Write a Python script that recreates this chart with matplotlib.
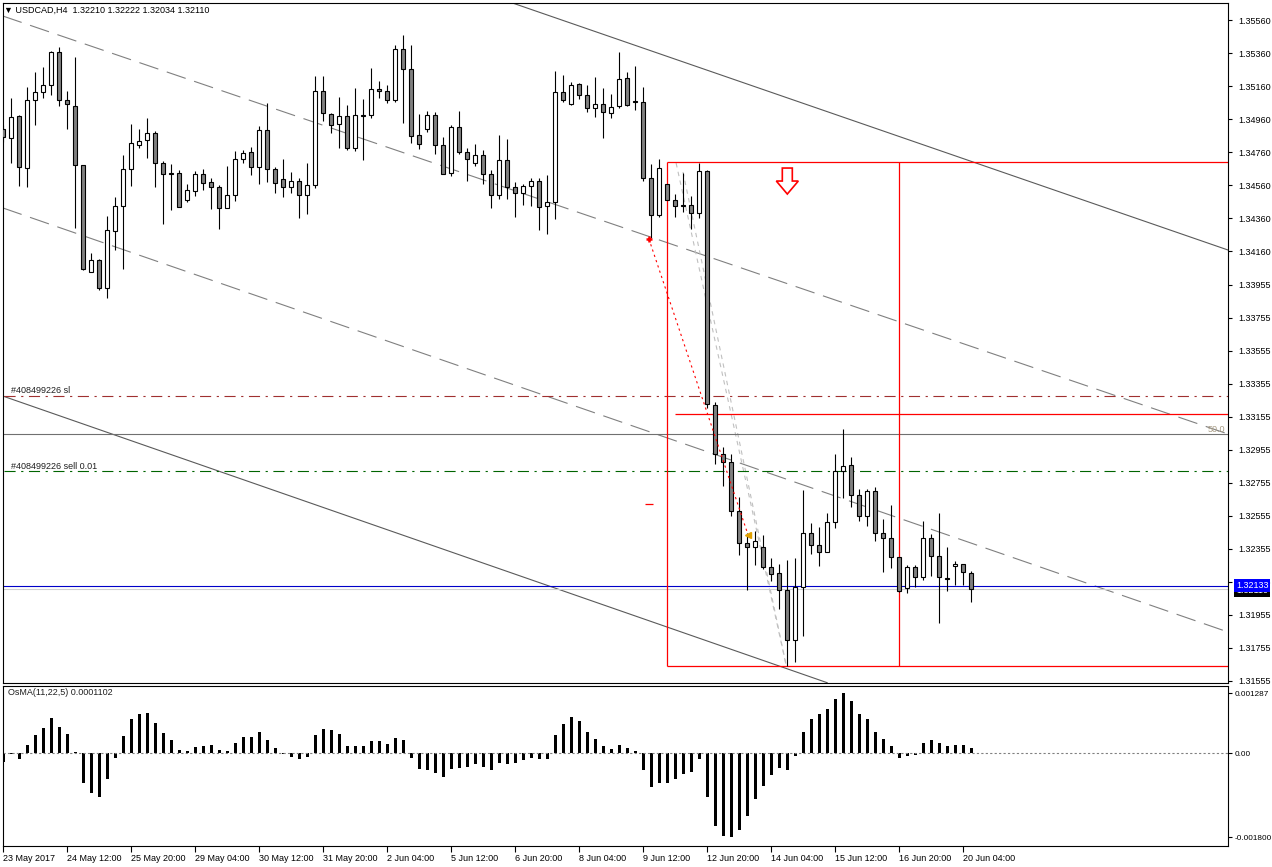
import matplotlib
matplotlib.use("Agg")
import matplotlib.pyplot as plt
import matplotlib.transforms as mtransforms
import numpy as np

plt.rcParams['font.family'] = ['Liberation Sans', 'DejaVu Sans']
plt.rcParams['font.size'] = 6.5

############# USDCAD H4 candles #############
opens = [1.34899, 1.34845, 1.34978, 1.34663, 1.35075, 1.35124, 1.35166, 1.35366, 1.35075, 1.35039,
         1.34681, 1.34033, 1.34105, 1.33936, 1.34281, 1.34433, 1.34657, 1.34802, 1.34833, 1.34875,
         1.34693, 1.34633, 1.34633, 1.34469, 1.34524, 1.34627, 1.34578, 1.34548, 1.34420, 1.34499,
         1.34717, 1.34760, 1.34669, 1.34893, 1.34657, 1.34596, 1.34548, 1.34584, 1.34499, 1.34560,
         1.35130, 1.34990, 1.34930, 1.34978, 1.34784, 1.34978, 1.34984, 1.35142, 1.35130, 1.35075,
         1.35384, 1.35263, 1.34863, 1.34899, 1.34984, 1.34802, 1.34633, 1.34911, 1.34760, 1.34693,
         1.34742, 1.34627, 1.34499, 1.34711, 1.34548, 1.34512, 1.34554, 1.34584, 1.34433, 1.34457,
         1.35124, 1.35051, 1.35172, 1.35106, 1.35027, 1.35051, 1.34996, 1.35039, 1.35208, 1.35069,
         1.35063, 1.34602, 1.34378, 1.34566, 1.34469, 1.34439, 1.34439, 1.34390, 1.34645, 1.33227,
         1.32930, 1.32881, 1.32584, 1.32390, 1.32366, 1.32366, 1.32245, 1.32208, 1.32105, 1.31802,
         1.32124, 1.32451, 1.32378, 1.32336, 1.32518, 1.32827, 1.32863, 1.32681, 1.32554, 1.32705,
         1.32451, 1.32420, 1.32305, 1.32118, 1.32245, 1.32184, 1.32420, 1.32312, 1.32178, 1.32251,
         1.32263, 1.32210]
highs = [1.34924, 1.35088, 1.34984, 1.35154, 1.35245, 1.35275, 1.35372, 1.35396, 1.35130, 1.35336,
         1.34681, 1.34148, 1.34111, 1.34372, 1.34487, 1.34742, 1.34930, 1.34899, 1.34966, 1.34887,
         1.34705, 1.34687, 1.34651, 1.34566, 1.34645, 1.34657, 1.34602, 1.34560, 1.34675, 1.34766,
         1.34772, 1.34790, 1.34918, 1.35057, 1.34669, 1.34717, 1.34639, 1.34602, 1.34693, 1.35221,
         1.35221, 1.34996, 1.35093, 1.35045, 1.35148, 1.35081, 1.35269, 1.35190, 1.35166, 1.35408,
         1.35469, 1.35408, 1.34990, 1.35008, 1.35002, 1.34851, 1.34924, 1.35008, 1.34784, 1.34809,
         1.34772, 1.34651, 1.34863, 1.34839, 1.34578, 1.34566, 1.34602, 1.34602, 1.34621, 1.35251,
         1.35227, 1.35184, 1.35178, 1.35166, 1.35215, 1.35148, 1.35112, 1.35366, 1.35245, 1.35281,
         1.35154, 1.34687, 1.34717, 1.34566, 1.34505, 1.34633, 1.34493, 1.34693, 1.34651, 1.33245,
         1.32972, 1.32930, 1.32669, 1.32451, 1.32463, 1.32439, 1.32299, 1.32263, 1.32287, 1.32299,
         1.32711, 1.32512, 1.32487, 1.32572, 1.32930, 1.33081, 1.32911, 1.32717, 1.32717, 1.32730,
         1.32536, 1.32620, 1.32305, 1.32257, 1.32257, 1.32524, 1.32445, 1.32572, 1.32366, 1.32281,
         1.32263, 1.32222]
lows = [1.34821, 1.34693, 1.34554, 1.34548, 1.34924, 1.35088, 1.35106, 1.35039, 1.34899, 1.34300,
        1.34045, 1.34033, 1.33924, 1.33875, 1.34166, 1.34051, 1.34554, 1.34784, 1.34723, 1.34548,
        1.34324, 1.34408, 1.34427, 1.34457, 1.34493, 1.34530, 1.34414, 1.34293, 1.34420, 1.34463,
        1.34693, 1.34621, 1.34566, 1.34578, 1.34512, 1.34487, 1.34512, 1.34360, 1.34384, 1.34542,
        1.34948, 1.34875, 1.34784, 1.34772, 1.34766, 1.34711, 1.34966, 1.35088, 1.35057, 1.35063,
        1.34936, 1.34815, 1.34778, 1.34881, 1.34748, 1.34627, 1.34615, 1.34748, 1.34584, 1.34675,
        1.34566, 1.34420, 1.34475, 1.34475, 1.34366, 1.34439, 1.34433, 1.34287, 1.34263, 1.34354,
        1.35063, 1.35045, 1.35081, 1.35002, 1.34972, 1.34845, 1.34966, 1.35027, 1.35039, 1.35014,
        1.34584, 1.34239, 1.34366, 1.34469, 1.34366, 1.34396, 1.34293, 1.34360, 1.33209, 1.32869,
        1.32736, 1.32554, 1.32318, 1.32105, 1.32257, 1.32233, 1.32160, 1.31990, 1.31645, 1.31669,
        1.31827, 1.32324, 1.32251, 1.32336, 1.32481, 1.32663, 1.32608, 1.32524, 1.32494, 1.32403,
        1.32215, 1.32239, 1.32093, 1.32087, 1.32124, 1.32166, 1.32191, 1.31906, 1.32099, 1.32136,
        1.32136, 1.32034]
closes = [1.34851, 1.34972, 1.34669, 1.35075, 1.35124, 1.35166, 1.35366, 1.35075, 1.35051, 1.34681,
          1.34051, 1.34105, 1.33936, 1.34287, 1.34433, 1.34657, 1.34815, 1.34827, 1.34875, 1.34693,
          1.34627, 1.34627, 1.34427, 1.34530, 1.34627, 1.34572, 1.34548, 1.34420, 1.34499, 1.34717,
          1.34754, 1.34669, 1.34893, 1.34657, 1.34572, 1.34548, 1.34584, 1.34499, 1.34560, 1.35130,
          1.34996, 1.34924, 1.34978, 1.34784, 1.34984, 1.34984, 1.35142, 1.35130, 1.35075, 1.35384,
          1.35263, 1.34857, 1.34809, 1.34984, 1.34802, 1.34627, 1.34911, 1.34760, 1.34717, 1.34742,
          1.34627, 1.34499, 1.34711, 1.34548, 1.34512, 1.34554, 1.34584, 1.34427, 1.34457, 1.35124,
          1.35075, 1.35166, 1.35106, 1.35027, 1.35051, 1.35002, 1.35033, 1.35202, 1.35045, 1.35066,
          1.34602, 1.34378, 1.34663, 1.34469, 1.34433, 1.34433, 1.34390, 1.34645, 1.33233, 1.32930,
          1.32881, 1.32584, 1.32390, 1.32366, 1.32402, 1.32245, 1.32203, 1.32105, 1.31802, 1.32124,
          1.32451, 1.32378, 1.32336, 1.32518, 1.32827, 1.32857, 1.32681, 1.32554, 1.32705, 1.32451,
          1.32420, 1.32305, 1.32099, 1.32245, 1.32184, 1.32420, 1.32312, 1.32184, 1.32172, 1.32263,
          1.32215, 1.32110]

############# OsMA(11,22,5) histogram #############
osma = [-0.000178, -0.00001, -0.000121, 0.000178, 0.000392, 0.000542, 0.000763, 0.000563, 0.000414, 0.00002,
        -0.000627, -0.000841, -0.000927, -0.000542, -0.000093, 0.000378, 0.000734, 0.000841, 0.000863, 0.000649,
        0.000435, 0.000292, 0.000078, 0.00005, 0.000135, 0.000164, 0.000178, 0.000078, 0.00005, 0.000221,
        0.000349, 0.000349, 0.000456, 0.000292, 0.000121, -0.00002, -0.000071, -0.000121, -0.000071, 0.000392,
        0.000528, 0.000506, 0.000421, 0.000164, 0.000164, 0.000164, 0.000271, 0.000271, 0.000207, 0.000335,
        0.000292, -0.000093, -0.000335, -0.000349, -0.000421, -0.000499, -0.000335, -0.000307, -0.000285, -0.000228,
        -0.000292, -0.000349, -0.0002, -0.000221, -0.0002, -0.000135, -0.000093, -0.000114, -0.000114, 0.000392,
        0.000627, 0.000777, 0.000692, 0.000456, 0.000307, 0.000157, 0.000093, 0.000178, 0.000114, 0.00005,
        -0.000349, -0.000713, -0.000627, -0.000627, -0.000542, -0.000435, -0.000392, -0.000114, -0.000927, -0.001547,
        -0.001761, -0.0018, -0.001633, -0.001333, -0.00097, -0.000692, -0.000456, -0.000307, -0.000349, -0.00005,
        0.000456, 0.000734, 0.000841, 0.000948, 0.001162, 0.001287, 0.00112, 0.000841, 0.000734, 0.000456,
        0.000307, 0.000157, -0.000093, -0.00005, -0.00003, 0.000221, 0.000285, 0.000221, 0.000157, 0.000178,
        0.000178, 0.00011]

date_bars = [0, 8, 16, 24, 32, 40, 48, 56, 64, 72, 80, 88, 96, 104, 112, 120]
date_labels = ['23 May 2017', '24 May 12:00', '25 May 20:00', '29 May 04:00', '30 May 12:00',
               '31 May 20:00', '2 Jun 04:00', '5 Jun 12:00', '6 Jun 20:00', '8 Jun 04:00',
               '9 Jun 12:00', '12 Jun 20:00', '14 Jun 04:00', '15 Jun 12:00', '16 Jun 20:00',
               '20 Jun 04:00']

price_ticks = [1.35560, 1.35360, 1.35160, 1.34960, 1.34760, 1.34560, 1.34360, 1.34160, 1.33955,
               1.33755, 1.33555, 1.33355, 1.33155, 1.32955, 1.32755, 1.32555, 1.32355, 1.32155,
               1.31955, 1.31755, 1.31555]

# order / objects on the chart
sl_price = 1.33283
sell_price = 1.32825
fib50_price = 1.33049
ask_price = 1.32133
bid_price = 1.32110
box_top, box_bottom = 1.34699, 1.31645
box_left, box_mid = 82.96, 111.96
red_level, red_level_start = 1.33172, 83.96
trade_open = (80.7, 1.34233)
trade_close = (93.1, 1.32439)

# channel lines: two points each (bar, price)
channel_solid = [((63.3, 1.35669), (153.1, 1.34166)), ((-0.41, 1.33287), (103.1, 1.31542))]
channel_dashed = [((-0.41, 1.35590), (153.1, 1.33051)), ((-0.41, 1.34427), (153.1, 1.31851))]
fib_lines = [((84.1, 1.34693), (97.85, 1.31651)), ((84.96, 1.34639), (97.85, 1.31651))]

idx = np.arange(len(opens))
o = np.array(opens)
h = np.array(highs)
l = np.array(lows)
c = np.array(closes)
body_col = np.where(c > o, 'white', '#808080')

fig = plt.figure(figsize=(12.72, 8.67), dpi=100)
ax = fig.add_axes([0.00212, 0.21257, 0.96368, 0.78432])
ax2 = fig.add_axes([0.00212, 0.02422, 0.96368, 0.18489], sharex=ax)

ax.set_xlim(-0.08, 153.15)
ax.set_ylim(1.31544, 1.35665)

dashdot = (0, (10, 5, 2, 5))

# channel
for p1, p2 in channel_solid:
    ax.axline(p1, p2, color='#5a5a5a', lw=0.8, zorder=1)
for p1, p2 in channel_dashed:
    ax.axline(p1, p2, color='#808080', lw=0.8, dashes=(18, 8), zorder=1)
for p1, p2 in fib_lines:
    ax.plot([p1[0], p2[0]], [p1[1], p2[1]], color='#c0c0c0', lw=0.8, dashes=(4, 4), zorder=1)

# horizontal levels
ax.axhline(fib50_price, color='#707070', lw=0.8, zorder=1)
ax.hlines(sl_price, 0.1, 153.15, color='#a03030', lw=0.8, linestyles=[dashdot], zorder=1)
ax.hlines(sell_price, 0.1, 153.15, color='#006400', lw=0.8, linestyles=[dashdot], zorder=1)
ax.axhline(bid_price, color='#d0d0d0', lw=0.8, zorder=1)
ax.axhline(ask_price, color='#0000c8', lw=0.8, zorder=1)

# red box + levels
ax.hlines([box_top, box_bottom], box_left, 153.15, color='red', lw=0.9, zorder=1)
ax.vlines([box_left, box_mid], box_bottom, box_top, color='red', lw=0.9, zorder=1)
ax.hlines(red_level, red_level_start, 153.15, color='red', lw=0.9, zorder=1)
ax.hlines(1.32625, 80.2, 81.2, color='red', lw=0.9)

# candles
ax.vlines(idx, l, h, color='black', lw=0.8, zorder=2)
ax.bar(idx, np.abs(c - o), bottom=np.minimum(o, c), width=0.5, color=body_col,
       edgecolor='black', linewidth=0.8, zorder=3)

# trade
ax.plot([trade_open[0], trade_close[0]], [trade_open[1], trade_close[1]], color='red',
        lw=0.8, dashes=(2, 3), zorder=4)
ax.plot(*trade_open, marker='+', color='red', ms=5, mew=1.8, zorder=5)
ax.plot(*trade_close, marker='<', color='#e0a000', ms=4, zorder=5)

# down arrow
ax_x, ax_y = 98.0, 1.34663
px_x, px_y = 1 / 8, 0.0000606
arrow = [(-5, 0), (5, 0), (5, 13), (11, 13), (0, 26), (-11, 13), (-5, 13)]
ax.fill([ax_x + dx * px_x for dx, dy in arrow], [ax_y - dy * px_y for dx, dy in arrow],
        facecolor='white', edgecolor='red', lw=1.2, zorder=5)

# texts
ax.text(0.9, sl_price + 0.00004, '#408499226 sl', va='bottom', ha='left', color='#202020')
ax.text(0.9, sell_price + 0.00004, '#408499226 sell 0.01', va='bottom', ha='left', color='#202020')
ax.text(152.7, fib50_price + 0.00004, '50.0', va='bottom', ha='right', color='#a89c84')
ax.text(0.0011, 0.9955, '\u25bc USDCAD,H4  1.32210 1.32222 1.32034 1.32110',
        transform=ax.transAxes, va='top', ha='left', color='black')

# axis styling
ax.yaxis.tick_right()
ax.set_yticks(price_ticks)
ax.set_yticklabels(['%.5f' % t for t in price_ticks])
ax.tick_params(axis='y', direction='out', length=3, width=0.8, pad=4, labelsize=6.5)
ax.tick_params(axis='x', bottom=False, labelbottom=False)
for s in ax.spines.values():
    s.set_linewidth(0.8)

bt = mtransforms.blended_transform_factory(ax.transAxes, ax.transData)
ax.text(1.0061, bid_price - 0.00010, '%.5f' % bid_price, transform=bt, ha='left', va='center',
        color='white', clip_on=False, zorder=10,
        bbox=dict(boxstyle='square,pad=0.2', fc='black', ec='none'))
ax.text(1.0061, ask_price, '%.5f' % ask_price, transform=bt, ha='left', va='center',
        color='white', clip_on=False, zorder=11,
        bbox=dict(boxstyle='square,pad=0.2', fc='#0000ff', ec='none'))

# OsMA panel
ax2.bar(idx, osma, width=0.375, color='black', linewidth=0)
ax2.axhline(0, color='#808080', lw=0.8, dashes=(2, 2))
ax2.set_ylim(-0.001983, 0.001446)
ax2.yaxis.tick_right()
ax2.set_yticks([0.001287, 0.0, -0.0018])
ax2.set_yticklabels(['0.001287', '0.00', '-0.001800'])
ax2.tick_params(axis='y', direction='out', length=3, width=0.8, pad=1.5, labelsize=5.9)
ax2.set_xticks(date_bars)
ax2.set_xticklabels(date_labels, ha='left')
ax2.tick_params(axis='x', direction='out', length=4, width=0.8, pad=2, labelsize=6.5)
for s in ax2.spines.values():
    s.set_linewidth(0.8)
ax2.text(0.004, 0.985, 'OsMA(11,22,5) 0.0001102', transform=ax2.transAxes, va='top',
         ha='left', color='#202020')

fig.savefig('out.png', dpi=100)
